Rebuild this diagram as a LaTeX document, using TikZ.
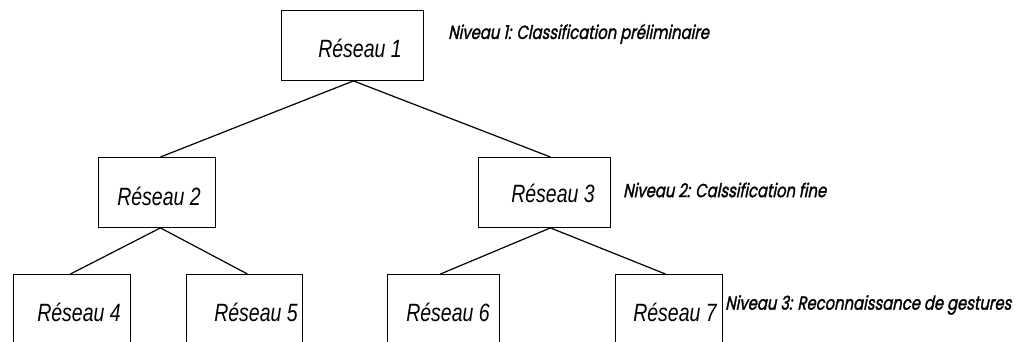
\documentclass[tikz,border=0pt]{standalone}
\usepackage{fontspec}
\newfontfamily\boxfont[FakeStretch=0.78]{Liberation Sans}
\newfontfamily\labfont[FakeSlant=0.2,FakeStretch=0.78,FakeBold=1.5]{Poppins}
\begin{document}
\begin{tikzpicture}[x=1pt,y=-1pt,
  box/.style={draw,line width=0.9pt,inner sep=0pt,anchor=north west},
  boxtext/.style={inner sep=0pt,font=\boxfont\itshape\fontsize{25}{25}\selectfont},
  levtext/.style={inner sep=0pt,anchor=west,font=\labfont\fontsize{19}{19}\selectfont},
  conn/.style={line width=1.2pt}]
\clip (0,0) rectangle (1016,341);
% boxes
\node[box,minimum width=142pt,minimum height=70pt] (b1) at (281,10) {};
\node[box,minimum width=117pt,minimum height=70pt] (b2) at (98,157) {};
\node[box,minimum width=132pt,minimum height=70pt] (b3) at (478,157) {};
\node[box,minimum width=117pt,minimum height=90pt] (b4) at (13,274) {};
\node[box,minimum width=116pt,minimum height=90pt] (b5) at (186,274) {};
\node[box,minimum width=112pt,minimum height=90pt] (b6) at (387,274) {};
\node[box,minimum width=107pt,minimum height=90pt] (b7) at (615,274) {};
% box texts
\node[boxtext] (t1) at (360,48) {Réseau 1};
\node[boxtext] (t2) at (159,196) {Réseau 2};
\node[boxtext] (t3) at (553,193) {Réseau 3};
\node[boxtext] (t4) at (79,312) {Réseau 4};
\node[boxtext] (t5) at (256,312) {Réseau 5};
\node[boxtext] (t6) at (448,312) {Réseau 6};
\node[boxtext] (t7) at (675,312) {Réseau 7};
% level labels
\node[levtext] (l1) at (448,34) {Niveau 1: Classification préliminaire};
\node[levtext] (l2) at (623,190) {Niveau 2: Calssification fine};
\node[levtext] (l3) at (725,305) {Niveau 3: Reconnaissance de gestures};
% connectors
\coordinate (b1s) at ([xshift=1pt]b1.south);
\draw[conn] (b1s) -- ([xshift=3.5pt]b2.north);
\draw[conn] (b1s) -- ([xshift=6pt]b3.north);
\draw[conn] ([xshift=3.5pt]b2.south) -- ([xshift=-1.5pt]b4.north);
\draw[conn] ([xshift=3.5pt]b2.south) -- ([xshift=3pt]b5.north);
\draw[conn] ([xshift=6pt]b3.south) -- ([xshift=-3pt]b6.north);
\draw[conn] ([xshift=6pt]b3.south) -- ([xshift=-3.5pt]b7.north);
\end{tikzpicture}
\end{document}
